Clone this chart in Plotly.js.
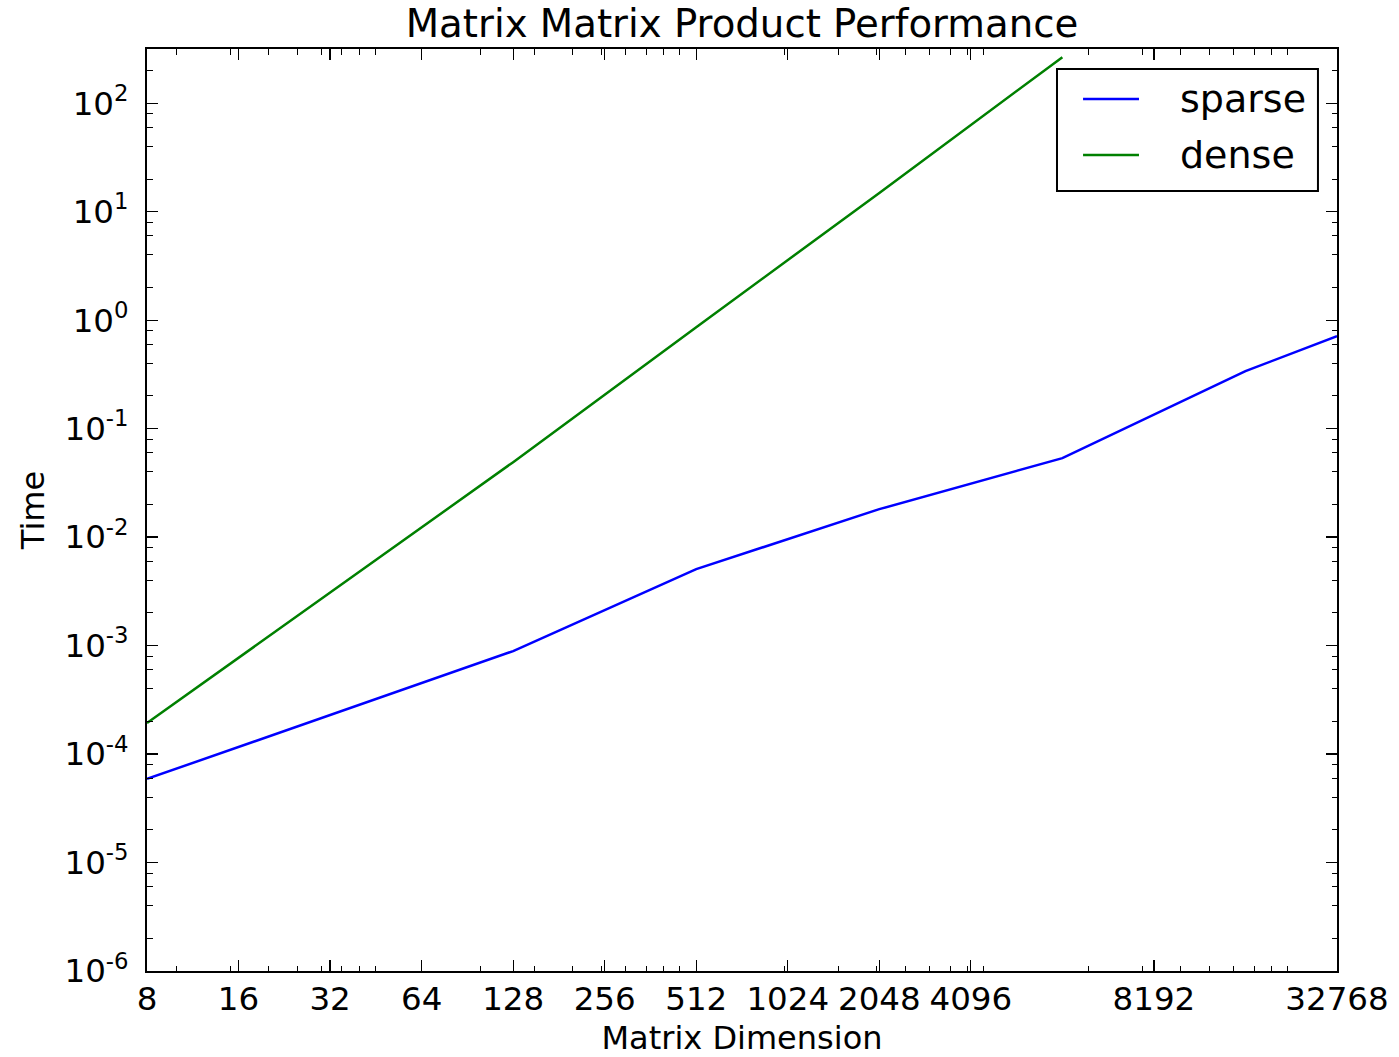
<!DOCTYPE html>
<html>
<head>
<meta charset="utf-8">
<script src="https://cdn.plot.ly/plotly-3.0.1.min.js"></script>
<style>html,body{margin:0;padding:0;background:#fff;}</style>
</head>
<body>
<div id="chart" style="width:1399px;height:1057px;"></div>
<script>
// ---- data ----
const sparseDim  = [8, 128, 512, 2048, 8192, 32768, 65536];
const sparseTime = [5.9e-5, 8.9e-4, 5.07e-3, 0.0181, 0.0535, 0.339, 0.713];
const denseDim   = [8, 128, 512, 2048, 8192];
const denseTime  = [1.93e-4, 0.0491, 0.861, 14.9, 266];
const seriesNames  = ["sparse", "dense"];
const seriesColors = ["#0000ff", "#008000"];

// ---- tick labels ----
const xTickVals = [8, 16, 32, 64, 128, 256, 512, 1024, 2048, 4096, 16384, 65536];
const xTickText = ["8", "16", "32", "64", "128", "256", "512", "1024", "2048", "4096", "8192", "32768"];
const yTickVals = [1e-6, 1e-5, 1e-4, 1e-3, 1e-2, 1e-1, 1e0, 1e1, 1e2];
const yTickText = ["10<sup>-6</sup>", "10<sup>-5</sup>", "10<sup>-4</sup>", "10<sup>-3</sup>",
                   "10<sup>-2</sup>", "10<sup>-1</sup>", "10<sup>0</sup>", "10<sup>1</sup>", "10<sup>2</sup>"];
const xMinorSubs = [1, 1.5, 2, 2.5, 3, 3.5, 4, 4.5];
const xMinorDecades = [10, 100, 1000, 10000];
const yMinorSubs = [2, 4, 6, 8];
const yMinorDecades = [1e-6, 1e-5, 1e-4, 1e-3, 1e-2, 1e-1, 1e0, 1e1, 1e2];

const xMinor = [];
xMinorDecades.forEach(d => xMinorSubs.forEach(s => xMinor.push(d * s)));
const yMinor = [];
yMinorDecades.forEach(d => yMinorSubs.forEach(s => { if (d * s < 316) yMinor.push(d * s); }));

const FONT = "DejaVu Sans, Verdana, sans-serif";

const traces = [
  {x: sparseDim, y: sparseTime, name: seriesNames[0], type: "scatter", mode: "lines",
   line: {color: seriesColors[0], width: 2.5}},
  {x: denseDim, y: denseTime, name: seriesNames[1], type: "scatter", mode: "lines",
   line: {color: seriesColors[1], width: 2.5}}
];

const axisCommon = {
  type: "log", showgrid: false, zeroline: false,
  showline: true, linecolor: "#000", linewidth: 2, mirror: "allticks",
  ticks: "inside", ticklen: 11, tickwidth: 1.3, tickcolor: "#000",
  tickmode: "array",
  tickfont: {family: FONT, size: 32.5, color: "#000"}
};

// legend box drawn in paper coordinates (matplotlib-style legend: long gap between sample and label)
const legendBox = {x0: 0.7647, x1: 0.9840, y0: 0.8460, y1: 0.9783};
const legendRowsY = [0.9458, 0.8850];
const legendSampleX = [0.7866, 0.8336];
const legendTextX = 0.8666;

const shapes = [
  {type: "rect", xref: "paper", yref: "paper", x0: legendBox.x0, x1: legendBox.x1, y0: legendBox.y0, y1: legendBox.y1,
   line: {color: "#000", width: 2}, fillcolor: "#fff", layer: "above"}
];
const annotations = [];
seriesNames.forEach((nm, i) => {
  shapes.push({type: "line", xref: "paper", yref: "paper", x0: legendSampleX[0], x1: legendSampleX[1],
               y0: legendRowsY[i], y1: legendRowsY[i], line: {color: seriesColors[i], width: 2.5}, layer: "above"});
  annotations.push({text: nm, xref: "paper", yref: "paper", x: legendTextX, y: legendRowsY[i],
                    xanchor: "left", yanchor: "middle", showarrow: false,
                    font: {family: FONT, size: 38, color: "#000"}});
});

const layout = {
  width: 1399, height: 1057,
  paper_bgcolor: "#fff", plot_bgcolor: "#fff",
  margin: {l: 147, r: 62, t: 49, b: 86, pad: 0},
  font: {family: FONT, color: "#000"},
  title: {text: "Matrix Matrix Product Performance", font: {family: FONT, size: 38.7, color: "#000"},
          x: 0.5, xref: "paper", y: 0.978, yref: "container", yanchor: "middle"},
  xaxis: Object.assign({}, axisCommon, {
    range: [Math.log10(8), Math.log10(65536)],
    tickvals: xTickVals, ticktext: xTickText, ticklabelstandoff: -2,
    title: {text: "Matrix Dimension", font: {family: FONT, size: 32, color: "#000"}, standoff: 17},
    minor: {tickmode: "array", tickvals: xMinor, ticks: "inside", ticklen: 5.5, tickwidth: 1, tickcolor: "#000", showgrid: false}
  }),
  yaxis: Object.assign({}, axisCommon, {
    range: [-6, 2.5],
    tickvals: yTickVals, ticktext: yTickText, ticklabelstandoff: 10,
    title: {text: "Time", font: {family: FONT, size: 32, color: "#000"}, standoff: 10},
    minor: {tickmode: "array", tickvals: yMinor, ticks: "inside", ticklen: 5.5, tickwidth: 1, tickcolor: "#000", showgrid: false}
  }),
  showlegend: false,
  shapes: shapes,
  annotations: annotations
};

Plotly.newPlot("chart", traces, layout, {displayModeBar: false, staticPlot: true});
</script>
</body>
</html>
